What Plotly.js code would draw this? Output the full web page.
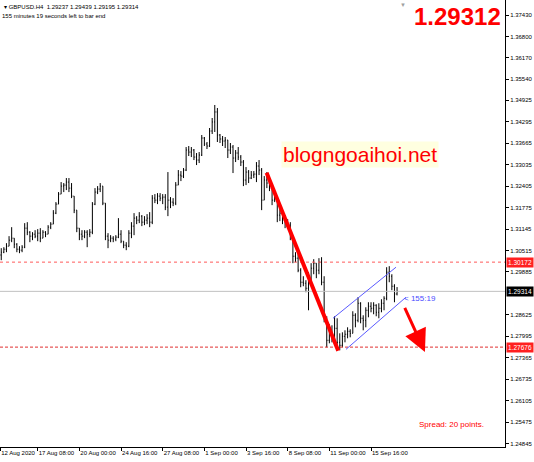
<!DOCTYPE html>
<html><head><meta charset="utf-8">
<script src="https://cdn.plot.ly/plotly-3.0.1.min.js"></script>
<style>html,body{margin:0;padding:0;background:#fff;}#chart{width:534px;height:462px;}</style>
</head><body><div id="chart"></div>
<script>
// ---- GBPUSD H4 bars (oldest -> newest) ----
const opens = [
1.30381,1.30464,1.30552,1.30640,1.30817,1.30876,1.30699,1.30552,1.30523,1.30611,
1.31170,1.31052,1.30935,1.30993,1.30935,1.31023,1.30876,1.31052,1.30993,1.31199,
1.31288,1.31611,1.31876,1.32170,1.32405,1.32435,1.32523,1.32346,1.32111,1.31699,
1.31170,1.30993,1.30935,1.31052,1.30993,1.31052,1.31876,1.32229,1.32317,1.32405,
1.31905,1.30935,1.30817,1.30876,1.30846,1.30905,1.30993,1.30787,1.30670,1.30640,
1.31023,1.31229,1.31464,1.31405,1.31523,1.31346,1.31405,1.31464,1.31346,1.32052,
1.31993,1.32111,1.32052,1.32082,1.31788,1.31993,1.31935,1.31905,1.32435,1.32729,
1.32699,1.32876,1.33464,1.33405,1.33464,1.33258,1.33170,1.33317,1.33817,1.33641,
1.33582,1.34023,1.34288,1.34582,1.33906,1.33788,1.33729,1.33758,1.33464,1.33552,
1.33229,1.33376,1.33258,1.33111,1.32582,1.32817,1.32641,1.32729,1.32758,1.32994,
1.32876,1.31993,1.32582,1.32494,1.32346,1.31993,1.32082,1.31552,1.31611,1.31405,
1.31346,1.31258,1.30935,1.30346,1.30288,1.29935,1.29582,1.29552,1.29405,1.29582,
1.29994,1.30141,1.29935,1.30170,1.29582,1.28523,1.27876,1.28170,1.27994,1.28229,
1.27817,1.27729,1.27994,1.28053,1.28141,1.28082,1.28611,1.28464,1.28964,1.28523,
1.28464,1.28758,1.28876,1.28817,1.28905,1.28699,1.28817,1.28964,1.29111,1.29876,
1.29758,1.29464,1.29237];
const highs = [
1.30582,1.30611,1.30729,1.30935,1.31199,1.30876,1.30729,1.30640,1.30670,1.31317,
1.31346,1.31082,1.31052,1.31111,1.31141,1.31170,1.31111,1.31082,1.31258,1.31346,
1.31699,1.31935,1.32229,1.32523,1.32494,1.32641,1.32641,1.32494,1.32111,1.31699,
1.31170,1.31111,1.31111,1.31111,1.31141,1.31935,1.32346,1.32405,1.32494,1.32405,
1.31905,1.31023,1.30964,1.30935,1.30964,1.31464,1.31111,1.30787,1.30758,1.31111,
1.31346,1.31611,1.31523,1.31640,1.31552,1.31523,1.31582,1.31640,1.32141,1.32170,
1.32199,1.32199,1.32170,1.32170,1.32817,1.32082,1.32052,1.32523,1.32876,1.32847,
1.32935,1.33552,1.33582,1.33552,1.33494,1.33376,1.33405,1.33906,1.33847,1.33700,
1.34111,1.34405,1.34787,1.34699,1.33935,1.33876,1.33847,1.33758,1.33670,1.33611,
1.33464,1.33552,1.33317,1.33170,1.32964,1.32876,1.32847,1.32847,1.33111,1.33170,
1.32935,1.32699,1.32817,1.32611,1.32346,1.32229,1.32082,1.31729,1.31640,1.31552,
1.31435,1.31346,1.30935,1.30464,1.30405,1.29994,1.29758,1.29641,1.29876,1.30141,
1.30258,1.30141,1.30288,1.30317,1.29758,1.28582,1.28347,1.28317,1.28582,1.28523,
1.28082,1.28111,1.28170,1.28258,1.28200,1.28729,1.28670,1.29141,1.28994,1.28611,
1.28846,1.28994,1.28994,1.28994,1.28935,1.28964,1.29082,1.29170,1.30023,1.30053,
1.29817,1.29523,1.29439];
const lows = [
1.30229,1.30435,1.30464,1.30640,1.30758,1.30582,1.30464,1.30435,1.30464,1.30582,
1.30964,1.30758,1.30817,1.30876,1.30787,1.30758,1.30876,1.30905,1.30993,1.31141,
1.31288,1.31582,1.31876,1.32170,1.32229,1.32288,1.32229,1.32052,1.31611,1.31052,
1.30817,1.30817,1.30876,1.30611,1.30905,1.30993,1.31846,1.32170,1.32229,1.31846,
1.30817,1.30582,1.30758,1.30758,1.30787,1.30876,1.30729,1.30582,1.30523,1.30611,
1.30876,1.30964,1.31288,1.31317,1.31229,1.31258,1.31288,1.31199,1.31288,1.31905,
1.31876,1.31964,1.31876,1.31699,1.31523,1.31758,1.31817,1.31846,1.32435,1.32552,
1.32641,1.32847,1.33288,1.33258,1.33170,1.33023,1.33082,1.33288,1.33582,1.33494,
1.33552,1.33935,1.33994,1.33700,1.33670,1.33582,1.33523,1.33229,1.33347,1.32788,
1.33111,1.33170,1.32994,1.32405,1.32435,1.32494,1.32611,1.32641,1.32523,1.32729,
1.31699,1.31993,1.32346,1.32258,1.31846,1.31935,1.31346,1.31376,1.31288,1.31170,
1.31170,1.30817,1.30141,1.30170,1.29876,1.29435,1.29464,1.29288,1.28758,1.29582,
1.29817,1.29700,1.29817,1.29494,1.28405,1.27670,1.27788,1.27817,1.27729,1.27641,
1.27582,1.27670,1.27817,1.27935,1.27964,1.28082,1.28258,1.28405,1.28376,1.28170,
1.28258,1.28552,1.28699,1.28641,1.28582,1.28523,1.28699,1.28758,1.29052,1.29582,
1.29347,1.28994,1.29195];
const closes = [
1.30464,1.30552,1.30640,1.30817,1.30876,1.30699,1.30552,1.30523,1.30611,1.31170,
1.31052,1.30935,1.30993,1.30935,1.31023,1.30876,1.31052,1.30993,1.31199,1.31288,
1.31611,1.31876,1.32170,1.32405,1.32435,1.32523,1.32346,1.32111,1.31699,1.31170,
1.30993,1.30935,1.31052,1.30993,1.31052,1.31876,1.32229,1.32317,1.32405,1.31905,
1.30935,1.30817,1.30876,1.30846,1.30905,1.30993,1.30787,1.30670,1.30640,1.31023,
1.31229,1.31464,1.31405,1.31523,1.31346,1.31405,1.31464,1.31346,1.32052,1.31993,
1.32111,1.32052,1.32082,1.31788,1.31993,1.31935,1.31905,1.32435,1.32729,1.32699,
1.32876,1.33464,1.33405,1.33464,1.33258,1.33170,1.33317,1.33817,1.33641,1.33582,
1.34023,1.34288,1.34582,1.33906,1.33788,1.33729,1.33758,1.33464,1.33552,1.33229,
1.33376,1.33258,1.33111,1.32582,1.32817,1.32641,1.32729,1.32758,1.32994,1.32876,
1.31993,1.32582,1.32494,1.32346,1.31993,1.32082,1.31552,1.31611,1.31405,1.31346,
1.31258,1.30935,1.30346,1.30288,1.29935,1.29582,1.29552,1.29405,1.29582,1.29994,
1.30141,1.29935,1.30170,1.29582,1.28523,1.27876,1.28170,1.27994,1.28229,1.27817,
1.27729,1.27994,1.28053,1.28141,1.28082,1.28611,1.28464,1.28964,1.28523,1.28464,
1.28758,1.28876,1.28817,1.28905,1.28699,1.28817,1.28964,1.29111,1.29876,1.29758,
1.29464,1.29237,1.29314];

// ---- axis labels ----
const timeTickBars = [0.6, 15, 31, 47, 63, 79, 95, 111, 127, 143];
const timeTickLabels = ["12 Aug 2020","17 Aug 08:00","20 Aug 00:00","24 Aug 16:00","27 Aug 08:00",
  "1 Sep 00:00","3 Sep 16:00","8 Sep 08:00","11 Sep 00:00","15 Sep 16:00"];
const priceTicks = [1.37430,1.36800,1.36170,1.35540,1.34925,1.34295,1.33665,1.33035,1.32405,1.31775,
  1.31145,1.30515,1.29885,1.28625,1.27995,1.27365,1.26735,1.26105,1.25475,1.24845];
const priceTickLabels = priceTicks.map(v => v.toFixed(5));

// ---- levels & drawings (bar index, price) ----
const upperLevel = 1.30172;
const lowerLevel = 1.27676;
const bidPrice = 1.29314;
const bigPrice = "1.29312";
const trendLine = {x: [102.9, 130.4], y: [1.32798, 1.27571]};
const channelUpper = {x: [128.4, 152.6], y: [1.28523, 1.30023]};
const channelLower = {x: [133.4, 156.4], y: [1.27611, 1.29141]};
const arrowLine = {x: [155.7, 163.7], y: [1.28876, 1.27533]};

const xIdx = opens.map((_, i) => i + 1);
const FONT = 'Liberation Sans, Arial, sans-serif';

const trace = {
  type: 'ohlc', x: xIdx, open: opens, high: highs, low: lows, close: closes,
  increasing: {line: {color: '#000000', width: 1}},
  decreasing: {line: {color: '#000000', width: 1}},
  tickwidth: 0.3, hoverinfo: 'none', showlegend: false
};

const shapes = [
  {type:'line', xref:'paper', x0:0, x1:1, yref:'y', y0:upperLevel, y1:upperLevel, line:{color:'#ff5a5a', width:1, dash:'dot'}},
  {type:'line', xref:'paper', x0:0, x1:1, yref:'y', y0:bidPrice, y1:bidPrice, line:{color:'#c0c0c0', width:1}},
  {type:'line', xref:'paper', x0:0, x1:1, yref:'y', y0:lowerLevel, y1:lowerLevel, line:{color:'#e03030', width:1, dash:'3px,2px'}},
  {type:'line', xref:'x', yref:'y', x0:trendLine.x[0], x1:trendLine.x[1], y0:trendLine.y[0], y1:trendLine.y[1], line:{color:'#ff0000', width:4}},
  {type:'line', xref:'x', yref:'y', x0:channelUpper.x[0], x1:channelUpper.x[1], y0:channelUpper.y[0], y1:channelUpper.y[1], line:{color:'#5a5aff', width:1}},
  {type:'line', xref:'x', yref:'y', x0:channelLower.x[0], x1:channelLower.x[1], y0:channelLower.y[0], y1:channelLower.y[1], line:{color:'#5a5aff', width:1}}
];

function priceBox(text, price, bg) {
  return {xref:'paper', x:1, xanchor:'left', xshift:1, yref:'y', y:price, yanchor:'middle',
    text:text, showarrow:false, bgcolor:bg, borderpad:1,
    font:{family:FONT, size:6.5, color:'#ffffff'}};
}

const annotations = [
  {xref:'paper', yref:'paper', x:0.004, y:0.9843, xanchor:'left', yanchor:'middle', showarrow:false,
   text:'\u25BE GBPUSD.H4  1.29237 1.29439 1.29195 1.29314', font:{family:FONT, size:6, color:'#000'}},
  {xref:'paper', yref:'paper', x:0, y:0.9642, xanchor:'left', yanchor:'middle', showarrow:false,
   text:'155 minutes 19 seconds left to bar end', font:{family:FONT, size:6, color:'#000'}},
  {xref:'paper', yref:'paper', x:503/505, y:1-16.5/447, xanchor:'right', yanchor:'middle', showarrow:false,
   text:bigPrice, font:{family:FONT, size:24, color:'#ff0000', weight:'bold'}},
  {xref:'paper', yref:'paper', x:360/505, y:1-154.5/447, xanchor:'center', yanchor:'middle', showarrow:false,
   text:'blogngoaihoi.net', bgcolor:'#ffffe0', borderpad:1, font:{family:FONT, size:21, color:'#ff0000'}},
  {xref:'paper', yref:'paper', x:417/505, y:1-424/447, xanchor:'left', yanchor:'middle', showarrow:false,
   text:'Spread: 20 points.', font:{family:FONT, size:8, color:'#ff0000'}},
  {xref:'paper', yref:'paper', x:402/505, y:1-298/447, xanchor:'left', yanchor:'middle', showarrow:false,
   text:'&lt; 155:19', font:{family:FONT, size:8, color:'#4b4bff'}},
  {xref:'paper', yref:'paper', x:403/505, y:1, xanchor:'center', yanchor:'top', showarrow:false,
   text:'\u25BC', font:{family:FONT, size:6, color:'#a0a0a0'}},
  {xref:'x', yref:'y', axref:'x', ayref:'y', x:arrowLine.x[1], y:arrowLine.y[1], ax:arrowLine.x[0], ay:arrowLine.y[0],
   showarrow:true, arrowhead:2, arrowsize:1.5, arrowwidth:3, arrowcolor:'#ff0000', text:''},
  priceBox(upperLevel.toFixed(5), upperLevel, '#ff2020'),
  priceBox(bidPrice.toFixed(5), bidPrice, '#000000'),
  priceBox(lowerLevel.toFixed(5), lowerLevel, '#ff2020')
];

const layout = {
  width:534, height:462, margin:{l:0, r:29, t:0, b:15, pad:0},
  paper_bgcolor:'#ffffff', plot_bgcolor:'#ffffff', showlegend:false,
  font:{family:FONT, size:6, color:'#000'},
  xaxis:{range:[0.52, 194.45], tickmode:'array', tickvals:timeTickBars, ticktext:timeTickLabels,
    tickangle:0, ticks:'outside', ticklen:3, tickcolor:'#000', showline:true, linecolor:'#000', linewidth:1,
    showgrid:false, zeroline:false, rangeslider:{visible:false}, ticklabelposition:'outside right',
    tickfont:{family:FONT, size:6, color:'#000'}, fixedrange:true},
  yaxis:{side:'right', range:[1.247426, 1.378705], tickmode:'array', tickvals:priceTicks, ticktext:priceTickLabels,
    ticks:'outside', ticklen:3, tickcolor:'#000', showline:true, linecolor:'#000', linewidth:1,
    showgrid:false, zeroline:false, tickfont:{family:FONT, size:6, color:'#000'}, fixedrange:true},
  shapes:shapes, annotations:annotations
};

Plotly.newPlot('chart', [trace], layout, {staticPlot:true, displayModeBar:false});
</script></body></html>
